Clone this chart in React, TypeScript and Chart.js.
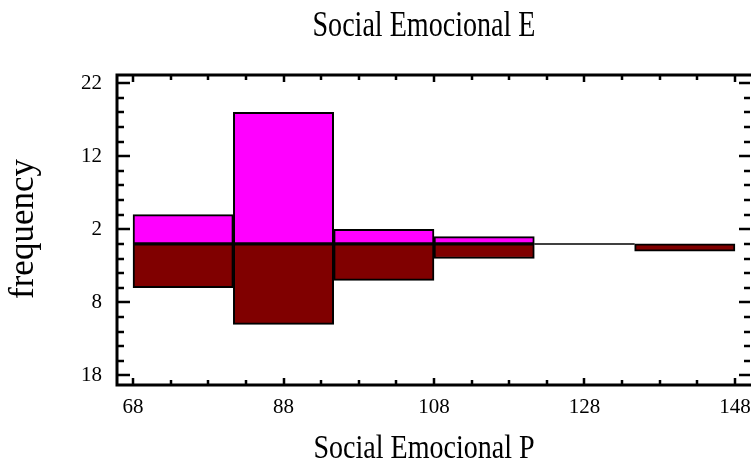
import React, { useEffect, useRef } from "react";
import { Chart, registerables } from "chart.js";
Chart.register(...registerables);

const chartTitle = "Social Emocional E";
const xAxisTitle = "Social Emocional P";
const yAxisTitle = "frequency";
const binEdges = [68, 81.333, 94.667, 108, 121.333, 134.667, 148];
const upperCounts = [4, 18, 2, 1, 0, 0];
const lowerCounts = [6, 11, 5, 2, 0, 1];
const xTickValues = [68, 88, 108, 128, 148];
const yTickValues = [22, 12, 2, -8, -18];
const xRange = [65.87, 150];
const yRange = [-19.3, 23.1];
const xMinorStep = 5;
const yMinorStep = 2;

const FONT = '"Liberation Serif", "Times New Roman", serif';

function minorValues(majors: number[], step: number, min: number, max: number) {
  let start = Math.min(...majors);
  while (start - step >= min) start -= step;
  const out: { v: number; major: boolean }[] = [];
  for (let v = start; v <= max + 1e-9; v += step) {
    out.push({ v, major: majors.some((m) => Math.abs(m - v) < 1e-6) });
  }
  return out;
}

const decorPlugin = {
  id: "decor",
  afterDatasetsDraw(chart: any) {
    const { ctx, chartArea: a, scales } = chart;
    const x = scales.x;
    const y = scales.y;
    ctx.save();
    ctx.strokeStyle = "#000";
    ctx.lineCap = "butt";
    ctx.lineWidth = 2.5;
    for (const t of minorValues(yTickValues, yMinorStep, yRange[0], yRange[1])) {
      const py = Math.round(y.getPixelForValue(t.v));
      ctx.beginPath();
      ctx.moveTo(a.left, py);
      ctx.lineTo(a.left + (t.major ? 13 : 7), py);
      ctx.moveTo(a.right, py);
      ctx.lineTo(a.right - (t.major ? 11 : 6), py);
      ctx.stroke();
    }
    for (const t of minorValues(xTickValues, xMinorStep, xRange[0], xRange[1])) {
      const px = Math.round(x.getPixelForValue(t.v));
      ctx.beginPath();
      ctx.moveTo(px, a.top);
      ctx.lineTo(px, a.top + (t.major ? 7 : 5));
      ctx.moveTo(px, a.bottom);
      ctx.lineTo(px, a.bottom - (t.major ? 7 : 5));
      ctx.stroke();
    }
    ctx.lineWidth = 3;
    ctx.beginPath();
    ctx.moveTo(a.right + 2, a.top);
    ctx.lineTo(a.left, a.top);
    ctx.lineTo(a.left, a.bottom);
    ctx.lineTo(a.right + 2, a.bottom);
    ctx.stroke();
    ctx.restore();
  },
  afterDraw(chart: any) {
    const { ctx } = chart;
    ctx.save();
    ctx.fillStyle = "#000";
    ctx.textAlign = "center";
    ctx.textBaseline = "alphabetic";
    ctx.save();
    ctx.font = `36px ${FONT}`;
    ctx.translate(424, 36);
    ctx.scale(0.78, 1);
    ctx.fillText(chartTitle, 0, 0);
    ctx.restore();
    ctx.save();
    ctx.font = `33px ${FONT}`;
    ctx.translate(424, 458);
    ctx.scale(0.85, 1);
    ctx.fillText(xAxisTitle, 0, 0);
    ctx.restore();
    ctx.save();
    ctx.font = `35px ${FONT}`;
    ctx.translate(33, 229);
    ctx.rotate(-Math.PI / 2);
    ctx.fillText(yAxisTitle, 0, 0);
    ctx.restore();
    ctx.restore();
  },
};

export default function App() {
  const ref = useRef<HTMLCanvasElement>(null);
  useEffect(() => {
    if (!ref.current) return;
    const centers = upperCounts.map((_, i) => (binEdges[i] + binEdges[i + 1]) / 2);
    const emptyLines: any[] = [];
    upperCounts.forEach((u, i) => {
      if (u === 0 && lowerCounts[i] === 0) {
        emptyLines.push({ x: binEdges[i], y: 0 }, { x: binEdges[i + 1], y: 0 }, { x: NaN, y: NaN });
      }
    });
    const chart = new Chart(ref.current, {
      type: "bar",
      data: {
        datasets: [
          {
            label: "upper",
            data: centers.map((c, i) => ({ x: c, y: upperCounts[i] })),
            backgroundColor: "#FF00FF",
            borderColor: "#000",
            borderWidth: 2,
            borderSkipped: false,
            grouped: false,
            barPercentage: 1,
            categoryPercentage: 1,
          } as any,
          {
            label: "lower",
            data: centers.map((c, i) => ({ x: c, y: -lowerCounts[i] })),
            backgroundColor: "#800000",
            borderColor: "#000",
            borderWidth: 2,
            borderSkipped: false,
            grouped: false,
            barPercentage: 1,
            categoryPercentage: 1,
          } as any,
          {
            type: "line",
            label: "baseline",
            data: emptyLines,
            borderColor: "#000",
            borderWidth: 1.5,
            pointRadius: 0,
            spanGaps: false,
          } as any,
        ],
      },
      options: {
        responsive: false,
        animation: false,
        devicePixelRatio: 1,
        layout: { padding: { top: 75, right: 1, left: 0, bottom: 0 } },
        plugins: { legend: { display: false }, title: { display: false }, tooltip: { enabled: false } },
        scales: {
          x: {
            type: "linear",
            min: xRange[0],
            max: xRange[1],
            offset: false,
            grid: { display: false, drawTicks: false },
            border: { display: false },
            afterBuildTicks: (s: any) => {
              s.ticks = xTickValues.map((v) => ({ value: v }));
            },
            afterFit: (s: any) => {
              s.height = 80;
              s.paddingLeft = 0;
              s.paddingRight = 0;
            },
            ticks: {
              autoSkip: false,
              maxRotation: 0,
              padding: 10,
              color: "#000",
              font: { family: FONT, size: 21 },
            },
          },
          y: {
            type: "linear",
            min: yRange[0],
            max: yRange[1],
            grid: { display: false, drawTicks: false },
            border: { display: false },
            afterBuildTicks: (s: any) => {
              s.ticks = yTickValues.map((v) => ({ value: v }));
            },
            afterFit: (s: any) => {
              s.width = 117;
              s.paddingTop = 0;
              s.paddingBottom = 0;
            },
            ticks: {
              autoSkip: false,
              padding: 15,
              color: "#000",
              font: { family: FONT, size: 21 },
              callback: (v: any) => String(Math.abs(Number(v))),
            },
          },
        },
      },
      plugins: [decorPlugin],
    });
    return () => chart.destroy();
  }, []);
  return (
    <div style={{ position: "absolute", left: 0, top: 0, width: 751, height: 465, background: "#fff" }}>
      <canvas ref={ref} width={751} height={465} />
    </div>
  );
}
